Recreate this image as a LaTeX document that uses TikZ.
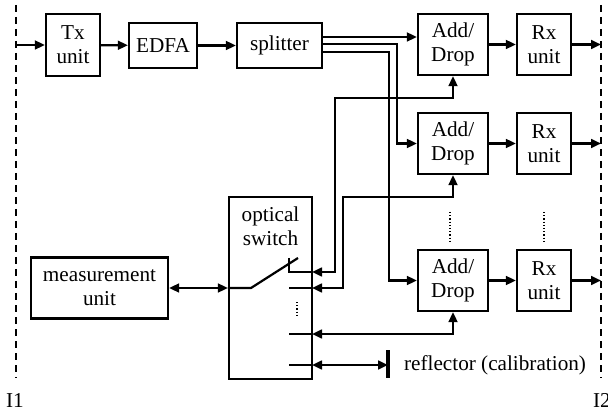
\documentclass[tikz,border=0pt]{standalone}
\usepackage{fontspec}
\setmainfont{Liberation Serif}
\usetikzlibrary{arrows.meta}

\begin{document}
\begin{tikzpicture}[x=0.5pt, y=-0.5pt, line width=1.1pt,
		>={Triangle[length=5pt,width=4.4pt]},
		font=\fontsize{10.6}{12}\selectfont,
		box/.style={draw, inner sep=0pt, align=center},
		adbox/.style={box, minimum width=35pt, minimum height=30.5pt},
		rxbox/.style={box, minimum width=27pt, minimum height=30.5pt},
		iface/.style={dash pattern=on 3.5pt off 2.5pt},
		vdots/.style={line width=0.6pt, dash pattern=on 0.6pt off 1pt}]
			\useasboundingbox (0,0) rectangle (608,410);
			
			% interfaces
			\coordinate (I1top) at (16,5);
			\coordinate (I1bot) at (16,378);
			\coordinate (I2top) at (601,5);
			\coordinate (I2bot) at (601,378);
			\draw[iface] (I1top) -- (I1bot);
			\draw[iface] (I2top) -- (I2bot);
			\node (i1) at (15,400) {I1};
			\node (i2) at (602,400) {I2};
			
			% transmitter side
			\node[box, minimum width=27pt, minimum height=31pt] (tx) at (73,45) {Tx\\unit};
			\node[box, minimum width=34pt, minimum height=22.5pt] (edfa) at (163,45.5) {EDFA};
			\node[box, minimum width=42.5pt, minimum height=22.5pt] (splitter) at (279.5,45.5) {splitter};
			\draw[->] (I1top |- tx) -- (tx);
			\draw[->] (tx) -- (edfa);
			\draw[->] (edfa) -- (splitter);
			
			% add/drop and receivers
			\node[adbox] (ad1) at (453,44.5) {Add/\\Drop};
			\node[adbox] (ad2) at (453,143.5) {Add/\\Drop};
			\node[adbox] (ad3) at (453,280.5) {Add/\\Drop};
			\node[rxbox] (rx1) at (544,44.5) {Rx\\unit};
			\node[rxbox] (rx2) at (544,143.5) {Rx\\unit};
			\node[rxbox] (rx3) at (544,280.5) {Rx\\unit};
			\draw[->] (ad1) -- (rx1);
			\draw[->] (ad2) -- (rx2);
			\draw[->] (ad3) -- (rx3);
			\draw[->] (rx1) -- (rx1 -| I2top);
			\draw[->] (rx2) -- (rx2 -| I2top);
			\draw[->] (rx3) -- (rx3 -| I2top);
			\draw[vdots] (450,212) -- (450,242);
			\draw[vdots] (544,212) -- (544,242);
			
			% splitter outputs
			\coordinate (s1) at (322,37);
			\coordinate (s2) at (322,44);
			\coordinate (s3) at (322,52);
			\coordinate (c2) at (397,44);
			\coordinate (c3) at (389,52);
			\draw[->] (s1) -- (s1 -| ad1.west);
			\draw[->] (s2) -- (c2) |- (ad2);
			\draw[->] (s3) -- (c3) |- (ad3);
			
			% optical switch
			\node[box, minimum width=41.5pt, minimum height=91pt] (switch) at (270.5,288) {};
			\node[anchor=north, inner sep=0pt, align=center] (swlabel) at (270.5,206) {optical\\switch};
			\coordinate (p1) at (312,272);
			\coordinate (p2) at (312,288);
			\coordinate (p3) at (312,334);
			\coordinate (p4) at (312,365);
			\coordinate (pivot) at (251,288);
			\draw (switch.west |- pivot) -- (pivot) -- (298,258);
			\draw (289,258) |- (p1);
			\draw (289,288) -- (p2);
			\draw (289,334) -- (p3);
			\draw (289,365) -- (p4);
			\draw[vdots] (297,302) -- (297,317);
			
			% measurement unit
			\node[box, minimum width=68.5pt, minimum height=30.5pt] (meas) at (99.5,288) {measurement\\unit};
			\draw[<->] (meas) -- (switch.west |- meas);
			
			% monitor paths back to the switch
			\coordinate (f1) at (335,98);
			\coordinate (f2) at (343,197);
			\draw[<->] (p1) -| (f1) -| (ad1.south);
			\draw[<->] (p2) -| (f2) -| (ad2.south);
			\draw[<->] (p3) -| (ad3.south);
			
			% reflector
			\coordinate (refl) at (388,365);
			\draw[<->] (p4) -- (refl);
			\draw[line width=2.2pt] (388,350) -- (388,378);
			\node[anchor=west, inner sep=0pt] (refllabel) at (403,365) {reflector (calibration)};
		\end{tikzpicture}
\end{document}
